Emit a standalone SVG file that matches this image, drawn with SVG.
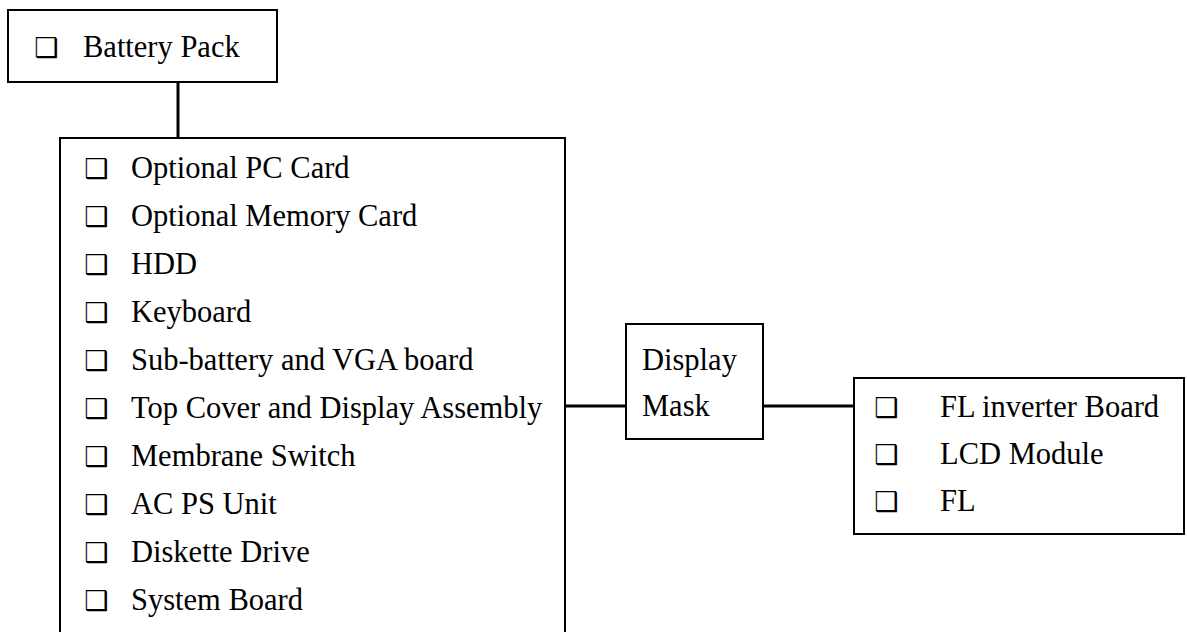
<svg xmlns="http://www.w3.org/2000/svg" width="1187" height="632" viewBox="0 0 1187 632">
<style>
.box{fill:#fff;stroke:#000;stroke-width:2}
.t{font-family:"Liberation Serif","Times New Roman",serif;font-size:30.5px;fill:#000}
.cb{font-family:"DejaVu Sans",sans-serif;font-size:27px;fill:#000}
.conn{stroke:#000;stroke-width:3;fill:none}
</style>
<rect width="1187" height="632" fill="#fff"/>
<g id="connectors">
<line class="conn" x1="178" y1="82" x2="178" y2="138"/>
<line class="conn" x1="565" y1="406" x2="626" y2="406"/>
<line class="conn" x1="760" y1="406" x2="854" y2="406"/>
</g>
<g id="battery-pack">
<rect class="box" x="8" y="10" width="269" height="72"/>
<text class="cb" x="34" y="57">❑</text>
<text class="t" x="83" y="57">Battery Pack</text>
</g>
<g id="main-parts">
<rect class="box" x="60" y="138" width="505" height="510"/>
<g class="cb">
<text x="84" y="178">❑</text>
<text x="84" y="226">❑</text>
<text x="84" y="274">❑</text>
<text x="84" y="322">❑</text>
<text x="84" y="370">❑</text>
<text x="84" y="418">❑</text>
<text x="84" y="466">❑</text>
<text x="84" y="514">❑</text>
<text x="84" y="562">❑</text>
<text x="84" y="610">❑</text>
</g>
<g class="t">
<text x="131" y="178">Optional PC Card</text>
<text x="131" y="226">Optional Memory Card</text>
<text x="131" y="274">HDD</text>
<text x="131" y="322">Keyboard</text>
<text x="131" y="370">Sub-battery and VGA board</text>
<text x="131" y="418">Top Cover and Display Assembly</text>
<text x="131" y="466">Membrane Switch</text>
<text x="131" y="514">AC PS Unit</text>
<text x="131" y="562">Diskette Drive</text>
<text x="131" y="610">System Board</text>
</g>
</g>
<g id="display-mask">
<rect class="box" x="626" y="324" width="137" height="115"/>
<text class="t" x="642" y="370">Display</text>
<text class="t" x="642" y="416">Mask</text>
</g>
<g id="display-parts">
<rect class="box" x="854" y="378" width="330" height="156"/>
<text class="cb" x="874" y="417">❑</text>
<text class="cb" x="874" y="464">❑</text>
<text class="cb" x="874" y="511">❑</text>
<text class="t" x="940" y="417">FL inverter Board</text>
<text class="t" x="940" y="464">LCD Module</text>
<text class="t" x="940" y="511">FL</text>
</g>
</svg>
